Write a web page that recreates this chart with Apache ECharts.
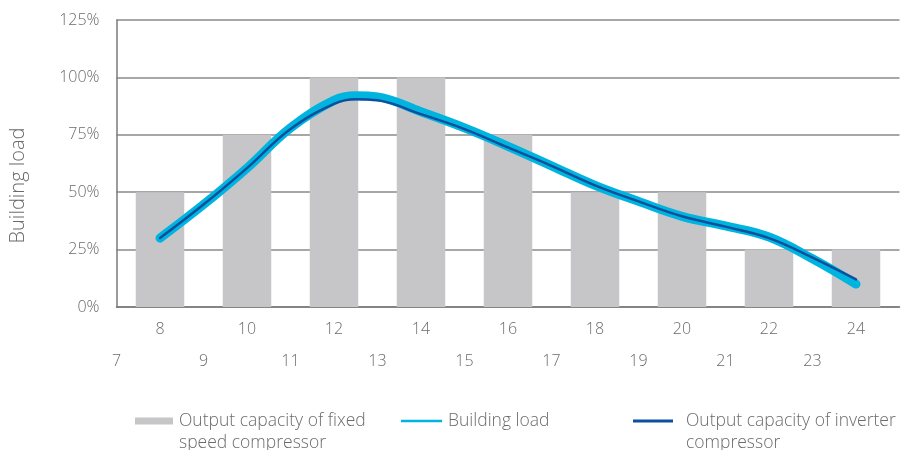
<!DOCTYPE html>
<html>
<head>
<meta charset="utf-8">
<script src="https://cdn.jsdelivr.net/npm/echarts@6/dist/echarts.min.js"></script>
<style>html,body{margin:0;padding:0;background:#fff}#c{width:901px;height:450px}</style>
</head>
<body>
<div id="c"></div>
<script>
// Data
const barHours = [8, 10, 12, 14, 16, 18, 20, 22, 24];
const fixedCapacity = [50, 75, 100, 100, 75, 50, 50, 25, 25];
const lineHours = [8, 9, 10, 11, 12, 12.5, 13, 14, 15, 16, 17, 18, 19, 20, 21, 22, 23, 24];
const buildingLoad = [30, 44.6, 60.5, 78, 90, 92, 91.5, 85, 78, 70, 61.5, 53, 46, 39.5, 35.3, 30.5, 21, 10];
const inverterOutput = [30, 44.6, 60.5, 77.5, 88.5, 90.5, 90, 84, 77.5, 69.5, 61.5, 53, 46, 39.5, 35, 30, 21.5, 12];
const yTicks = [0, 25, 50, 75, 100, 125];
const names = ['Output capacity of fixed speed compressor', 'Building load', 'Output capacity of inverter compressor'];
const legendLabels = [['Output capacity of fixed', 'speed compressor'], ['Building load'], ['Output capacity of inverter', 'compressor']];

const font = 'Open Sans';
const txt = '#6b6b6b';
const chart = echarts.init(document.getElementById('c'));
const pair = (xs, ys) => xs.map((x, i) => [x, ys[i]]);

// first line aligned with the legend icon: pad the text block with an empty leading line
function legendText(lines) {
  return lines.length > 1 ? ' \n' + lines.join('\n') : lines[0];
}

function legendCfg(i, left, top, padLeft, opts) {
  return Object.assign({
    left: left, top: top, orient: 'horizontal',
    data: [names[i]],
    itemGap: 0,
    formatter: () => legendText(legendLabels[i]),
    textStyle: { fontFamily: font, fontWeight: 300, fontSize: 17.5, color: txt, lineHeight: 22, padding: [0, 0, 0, padLeft] },
    selectedMode: false
  }, opts);
}

chart.setOption({
  animation: false,
  grid: { left: 116.5, right: 1.5, top: 20, bottom: 143, outerBoundsMode: 'none' },
  legend: [
    legendCfg(0, 130, 383, 1, { itemWidth: 38, itemHeight: 7, icon: 'rect', itemStyle: { color: '#c6c6c8' } }),
    legendCfg(1, 396, 405, 1, { itemWidth: 41, itemHeight: 2.5, icon: 'rect' }),
    legendCfg(2, 628, 383, 8, { itemWidth: 40, itemHeight: 3, icon: 'rect' })
  ],
  xAxis: [
    {
      type: 'value', min: 7, max: 25, interval: 1,
      axisLine: { show: true, lineStyle: { color: '#7a7a7a', width: 1.5 } },
      axisTick: { show: false }, splitLine: { show: false },
      axisLabel: {
        margin: 14, fontFamily: font, fontWeight: 300, fontSize: 16, color: txt,
        formatter: v => (v % 2 === 0 && v <= 24) ? String(v) : ''
      }
    },
    {
      type: 'value', min: 7, max: 25, interval: 1, position: 'bottom',
      axisLine: { show: false }, axisTick: { show: false }, splitLine: { show: false },
      axisLabel: {
        margin: 46, fontFamily: font, fontWeight: 300, fontSize: 16, color: txt,
        formatter: v => (v % 2 === 1 && v <= 23) ? String(v) : ''
      }
    }
  ],
  yAxis: {
    type: 'value', min: yTicks[0], max: yTicks[yTicks.length - 1], interval: 25,
    name: 'Building load', nameLocation: 'middle', nameGap: 88,
    nameTextStyle: { fontFamily: font, fontWeight: 300, fontSize: 20, color: txt, padding: [0, 44, 0, 0] },
    axisLine: { show: true, lineStyle: { color: '#7a7a7a', width: 1.5 } },
    axisTick: { show: false },
    splitLine: { show: true, lineStyle: { color: '#8a8a8a', width: 1.5 } },
    axisLabel: { margin: 17, fontFamily: font, fontWeight: 300, fontSize: 16, color: txt, formatter: '{value}%' }
  },
  series: [
    {
      name: names[0], type: 'bar', xAxisIndex: 0, barWidth: 48.5,
      itemStyle: { color: '#c6c6c8' },
      data: pair(barHours, fixedCapacity), z: 1
    },
    {
      name: names[1], type: 'line', xAxisIndex: 0, smooth: 0.4, showSymbol: false, symbol: 'none',
      itemStyle: { color: '#00b4e0' },
      lineStyle: { color: '#00b4e0', width: 9, cap: 'round', join: 'round' },
      data: pair(lineHours, buildingLoad), z: 3
    },
    {
      name: names[2], type: 'line', xAxisIndex: 0, smooth: 0.4, showSymbol: false, symbol: 'none',
      itemStyle: { color: '#0d4f9c' },
      lineStyle: { color: '#0d4f9c', width: 2.5, cap: 'round', join: 'round' },
      data: pair(lineHours, inverterOutput), z: 4
    }
  ]
});
</script>
</body>
</html>
